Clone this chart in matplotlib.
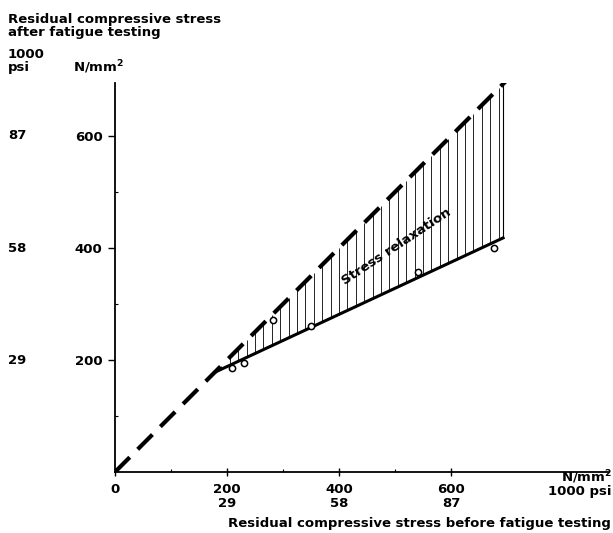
import numpy as np
import matplotlib
matplotlib.use("Agg")
import matplotlib.pyplot as plt
from matplotlib import transforms

plt.rcParams["font.family"] = ["DejaVu Sans"]
plt.rcParams["font.weight"] = "bold"
plt.rcParams["mathtext.default"] = "bf"

# before fatigue testing vs after fatigue testing (N/mm2)
dashed_x = [0, 700]
dashed_y = [0, 700]
solid_x = [178, 693]
solid_y = [178, 418]
points_x = [209, 230, 282, 350, 541, 677]
points_y = [186, 195, 271, 261, 357, 400]

x_ticks = [0, 200, 400, 600]
x_labels = ["0", "200\n29", "400\n58", "600\n87"]
y_ticks = [200, 400, 600]
y_labels = ["200", "400", "600"]
psi_labels = ["29", "58", "87"]

FS = 9.5
W, H = 613, 533
fig = plt.figure(figsize=(W / 100, H / 100), dpi=100)
x0, y0 = 115, 472
sc = 0.56
xmax, ymax = 880, 695
ax = fig.add_axes([x0 / W, (H - y0) / H, xmax * sc / W, ymax * sc / H])
ax.set_xlim(0, xmax)
ax.set_ylim(0, ymax)
for s in ["top", "right"]:
    ax.spines[s].set_visible(False)
ax.spines["left"].set_linewidth(1.3)
ax.spines["bottom"].set_linewidth(1.3)

# hatching between the two lines
hx = np.arange(190, 691, 15)
ax.vlines(hx, np.interp(hx, solid_x, solid_y), np.interp(hx, dashed_x, dashed_y),
          color="black", lw=0.6)
ax.vlines(solid_x[1], solid_y[1], np.interp(solid_x[1], dashed_x, dashed_y),
          color="black", lw=0.8)

ax.plot(dashed_x, dashed_y, color="black", lw=3, dashes=(5, 2.7), solid_capstyle="butt")
ax.plot(solid_x, solid_y, color="black", lw=2.2)
ax.plot(points_x, points_y, "o", ms=4.5, mfc="white", mec="black", mew=1.1)

ax.text(502, 402, "Stress relaxation", rotation=33.6, ha="center", va="center",
        fontsize=FS, fontweight="bold")

ax.set_xticks(x_ticks)
ax.set_xticklabels(x_labels, fontsize=FS, linespacing=1.05)
ax.set_xticks([100, 300, 500], minor=True)
ax.set_yticks(y_ticks)
ax.set_yticklabels(y_labels, fontsize=FS)
ax.set_yticks([100, 300, 500], minor=True)
ax.tick_params(axis="x", which="major", direction="inout", length=6, width=1, pad=5)
ax.tick_params(axis="y", which="major", direction="out", length=5, width=1, pad=4)
ax.tick_params(which="minor", direction="in", length=2, width=0.8)

tr = transforms.blended_transform_factory(fig.transFigure, ax.transData)
for v, lab in zip(y_ticks, psi_labels):
    ax.text(8 / W, v, lab, transform=tr, ha="left", va="center", fontsize=FS)

def ftxt(x, y, s, **kw):
    fig.text(x / W, 1 - y / H, s, fontsize=FS, fontweight="bold", va="baseline", **kw)

ftxt(8, 23, "Residual compressive stress")
ftxt(8, 36, "after fatigue testing")
ftxt(8, 58, "1000")
ftxt(8, 71, "psi")
ftxt(73, 72, "N/mm$^2$")
ftxt(612, 482, "N/mm$^2$", ha="right")
ftxt(612, 495, "1000 psi", ha="right")
ftxt(611, 527, "Residual compressive stress before fatigue testing", ha="right")

fig.savefig("out.png", dpi=100)
